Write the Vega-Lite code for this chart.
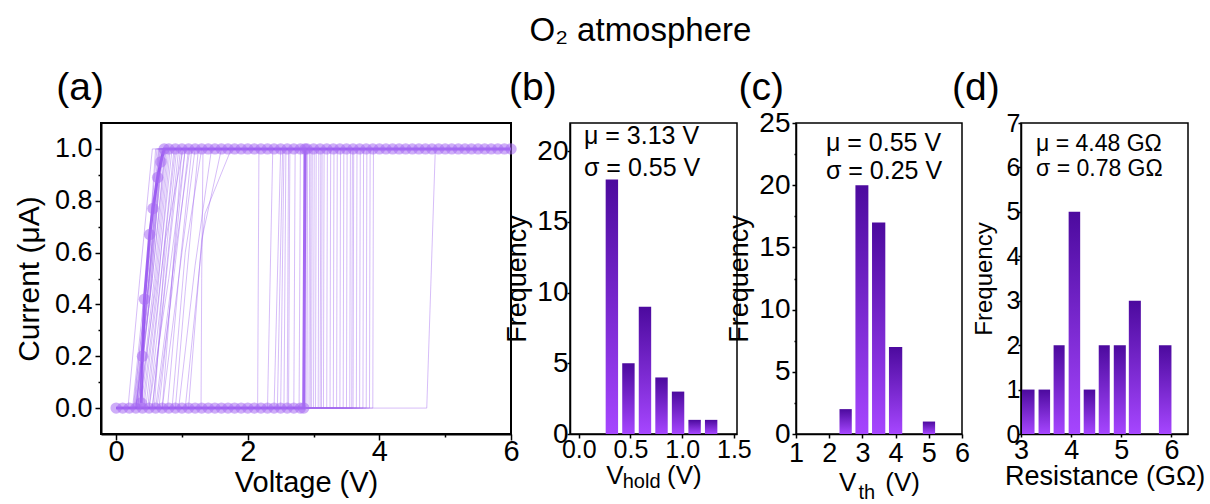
{
"$schema": "https://vega.github.io/schema/vega-lite/v6.json",
"padding": {"left": 13, "top": 14, "right": 0, "bottom": 0},
"background": "white",
"title": {"text": "O₂ atmosphere", "fontSize": 33, "font": "Liberation Sans", "fontWeight": "normal", "anchor": "middle", "frame": "bounds", "dx": 31, "offset": 20, "color": "black"},
"config": {
  "font": "Liberation Sans",
  "axis": {"grid": false, "domainColor": "black", "tickColor": "black", "labelColor": "black", "titleColor": "black", "labelFont": "Liberation Sans", "titleFont": "Liberation Sans", "titleFontWeight": "normal", "domainWidth": 1.5, "tickWidth": 1.5, "labelFlush": false, "labelOverlap": false, "labelBound": false},
  "view": {"stroke": "black", "strokeWidth": 1.5},
  "title": {"font": "Liberation Sans", "fontWeight": "normal", "color": "black"}
},
"bounds": "flush",
"spacing": 59,
"hconcat": [
{
  "width": 410, "height": 311,
  "view": {"stroke": "black", "strokeWidth": 2},
  "encoding": {
    "x": {"field": "V", "type": "quantitative", "scale": {"domain": [-0.23, 6], "nice": false, "zero": false},
      "axis": {"values": [0,1,2,3,4,5,6], "labelExpr": "datum.value % 2 == 0 ? datum.label : ''", "tickSize": {"condition": {"test": "datum.value % 2 == 0", "value": 6}, "value": 3}, "labelFontSize": 29, "labelPadding": -3, "labelOverlap": false, "title": "Voltage (V)", "titleFontSize": 29, "titlePadding": 2, "domainWidth": 2}},
    "y": {"field": "I", "type": "quantitative", "scale": {"domain": [-0.1, 1.1], "nice": false, "zero": false},
      "axis": {"values": [0,0.1,0.2,0.3,0.4,0.5,0.6,0.7,0.8,0.9,1.0], "labelExpr": "round(datum.value*10) % 2 == 0 ? format(datum.value, '.1f') : ''", "tickSize": {"condition": {"test": "round(datum.value*10) % 2 == 0", "value": 6}, "value": 3}, "labelFontSize": 27, "labelPadding": 3, "labelOverlap": false, "title": "Current (μA)", "titleFontSize": 30, "titlePadding": 10, "domainWidth": 2}}
  },
  "layer": [
    {"data": {"name": "iv"}, "mark": {"type": "line", "stroke": "#a36cf0", "strokeWidth": 1, "opacity": 0.45}, "encoding": {"detail": {"field": "curve"}, "order": {"field": "step"}}},
    {"data": {"name": "mk"}, "mark": {"type": "line", "stroke": "#9450f0", "strokeWidth": 3, "opacity": 0.85}, "encoding": {"order": {"field": "k"}}},
    {"data": {"name": "mk"}, "mark": {"type": "point", "shape": "circle", "filled": true, "size": 130, "color": "#a66af3", "opacity": 0.55}, "encoding": {}},
    {"data": {"values": [{"V": -0.91, "I": 1.189, "t": "(a)"}]}, "mark": {"type": "text", "align": "left", "baseline": "alphabetic", "fontSize": 39, "color": "black"}, "encoding": {"text": {"field": "t"}}}
  ]
},
{
  "width": 167, "height": 311,
  "encoding": {
    "x": {"field": "lo", "type": "quantitative", "scale": {"domain": [-0.085, 1.53], "nice": false, "zero": false},
      "axis": {"values": [0,0.5,1,1.5], "format": ".1f", "labelFontSize": 25, "tickSize": 4, "labelPadding": -1, "labelOverlap": false, "title": "V\u00a0\u00a0\u00a0\u00a0\u00a0\u00a0(V)", "titleFontSize": 26, "titlePadding": 0}},
    "y": {"field": "n", "type": "quantitative", "scale": {"domain": [0, 22], "nice": false},
      "axis": {"values": [0,5,10,15,20], "labelFontSize": 28, "tickSize": 3, "labelPadding": -1, "labelOverlap": false, "title": "Frequency", "titleFontSize": 27, "titlePadding": 5}}
  },
  "layer": [
    {"data": {"name": "hb"}, "mark": {"type": "bar", "color": {"gradient": "linear", "x1": 0, "y1": 0, "x2": 0, "y2": 1, "stops": [{"offset": 0, "color": "#4c0a9e"}, {"offset": 1, "color": "#a646ff"}]}},
     "encoding": {"x2": {"field": "hi"}, "y2": {"datum": 0}}},
    {"data": {"values": [{"lo": 0.05, "n": 20.5, "t": "μ = 3.13 V"}, {"lo": 0.05, "n": 18.25, "t": "σ = 0.55 V"}]},
     "mark": {"type": "text", "align": "left", "baseline": "alphabetic", "fontSize": 25, "color": "black"},
     "encoding": {"text": {"field": "t"}}},
    {"data": {"values": [{"lo": 0.425, "n": -3.8, "t": "hold"}]},
     "mark": {"type": "text", "align": "left", "baseline": "alphabetic", "fontSize": 20, "color": "black"},
     "encoding": {"text": {"field": "t"}}},
    {"data": {"values": [{"lo": -0.675, "n": 23.63, "t": "(b)"}]},
     "mark": {"type": "text", "align": "left", "baseline": "alphabetic", "fontSize": 39, "color": "black"},
     "encoding": {"text": {"field": "t"}}}
  ]
},
{
  "width": 166, "height": 311,
  "encoding": {
    "x": {"field": "lo", "type": "quantitative", "scale": {"domain": [1, 6], "nice": false, "zero": false},
      "axis": {"values": [1,2,3,4,5,6], "format": "d", "labelFontSize": 27, "tickSize": 4, "labelPadding": 2, "labelOverlap": false, "title": "V\u00a0\u00a0\u00a0\u00a0(V)", "titleFontSize": 26, "titlePadding": 3}},
    "y": {"field": "n", "type": "quantitative", "scale": {"domain": [0, 25], "nice": false},
      "axis": {"values": [0,2.5,5,7.5,10,12.5,15,17.5,20,22.5,25], "labelExpr": "datum.value % 5 == 0 ? datum.label : ''", "tickSize": {"condition": {"test": "datum.value % 5 == 0", "value": 4}, "value": 2}, "labelFontSize": 28, "labelPadding": 2, "labelOverlap": false, "title": "Frequency", "titleFontSize": 27, "titlePadding": 5}}
  },
  "layer": [
    {"data": {"name": "hc"}, "mark": {"type": "bar", "color": {"gradient": "linear", "x1": 0, "y1": 0, "x2": 0, "y2": 1, "stops": [{"offset": 0, "color": "#4c0a9e"}, {"offset": 1, "color": "#a646ff"}]}},
     "encoding": {"x2": {"field": "hi"}, "y2": {"datum": 0}}},
    {"data": {"values": [{"lo": 1.9, "n": 22.75, "t": "μ = 0.55 V"}, {"lo": 1.9, "n": 20.5, "t": "σ = 0.25 V"}]},
     "mark": {"type": "text", "align": "left", "baseline": "alphabetic", "fontSize": 25, "color": "black"},
     "encoding": {"text": {"field": "t"}}},
    {"data": {"values": [{"lo": 2.88, "n": -5.23, "t": "th"}]},
     "mark": {"type": "text", "align": "left", "baseline": "alphabetic", "fontSize": 20, "color": "black"},
     "encoding": {"text": {"field": "t"}}},
    {"data": {"values": [{"lo": -0.73, "n": 26.85, "t": "(c)"}]},
     "mark": {"type": "text", "align": "left", "baseline": "alphabetic", "fontSize": 39, "color": "black"},
     "encoding": {"text": {"field": "t"}}}
  ]
},
{
  "width": 167, "height": 311,
  "encoding": {
    "x": {"field": "lo", "type": "quantitative", "scale": {"domain": [3, 6.33], "nice": false, "zero": false},
      "axis": {"values": [3,4,5,6], "format": "d", "labelFontSize": 27, "tickSize": 3, "labelPadding": 0, "labelOverlap": false, "title": "Resistance (GΩ)", "titleFontSize": 27, "titlePadding": 0}},
    "y": {"field": "n", "type": "quantitative", "scale": {"domain": [0, 7], "nice": false},
      "axis": {"values": [0,1,2,3,4,5,6,7], "format": "d", "labelFontSize": 25, "tickSize": 3, "labelPadding": -2, "labelOverlap": false, "title": "Frequency", "titleFontSize": 24, "titlePadding": 10}}
  },
  "layer": [
    {"data": {"name": "hd"}, "mark": {"type": "bar", "color": {"gradient": "linear", "x1": 0, "y1": 0, "x2": 0, "y2": 1, "stops": [{"offset": 0, "color": "#4c0a9e"}, {"offset": 1, "color": "#a646ff"}]}},
     "encoding": {"x2": {"field": "hi"}, "y2": {"datum": 0}}},
    {"data": {"values": [{"lo": 3.3, "n": 6.37, "t": "μ = 4.48 GΩ"}, {"lo": 3.3, "n": 5.8, "t": "σ = 0.78 GΩ"}]},
     "mark": {"type": "text", "align": "left", "baseline": "alphabetic", "fontSize": 23, "color": "black"},
     "encoding": {"text": {"field": "t"}}},
    {"data": {"values": [{"lo": 1.624, "n": 7.52, "t": "(d)"}]},
     "mark": {"type": "text", "align": "left", "baseline": "alphabetic", "fontSize": 39, "color": "black"},
     "encoding": {"text": {"field": "t"}}}
  ]
}
],
"datasets": {
"hb": [{"lo":0.26,"hi":0.38,"n":18},{"lo":0.42,"hi":0.54,"n":5},{"lo":0.58,"hi":0.70,"n":9},{"lo":0.74,"hi":0.86,"n":4},{"lo":0.90,"hi":1.02,"n":3},{"lo":1.06,"hi":1.18,"n":1},{"lo":1.22,"hi":1.34,"n":1}],
"hc": [{"lo":2.31,"hi":2.68,"n":2},{"lo":2.79,"hi":3.18,"n":20},{"lo":3.29,"hi":3.69,"n":17},{"lo":3.80,"hi":4.20,"n":7},{"lo":4.82,"hi":5.19,"n":1}],
"hd": [{"lo":3.02,"hi":3.27,"n":1},{"lo":3.35,"hi":3.58,"n":1},{"lo":3.65,"hi":3.87,"n":2},{"lo":3.95,"hi":4.18,"n":5},{"lo":4.25,"hi":4.48,"n":1},{"lo":4.55,"hi":4.77,"n":2},{"lo":4.85,"hi":5.09,"n":2},{"lo":5.15,"hi":5.39,"n":3},{"lo":5.75,"hi":6.0,"n":2}],
"mk": [
{"k":1,"V":0.0,"I":0},{"k":2,"V":0.1,"I":0},{"k":3,"V":0.2,"I":0},{"k":4,"V":0.3,"I":0},{"k":5,"V":0.4,"I":0},{"k":6,"V":0.5,"I":0},{"k":7,"V":0.6,"I":0},{"k":8,"V":0.7,"I":0},{"k":9,"V":0.8,"I":0},{"k":10,"V":0.9,"I":0},
{"k":11,"V":1.0,"I":0},{"k":12,"V":1.1,"I":0},{"k":13,"V":1.2,"I":0},{"k":14,"V":1.3,"I":0},{"k":15,"V":1.4,"I":0},{"k":16,"V":1.5,"I":0},{"k":17,"V":1.6,"I":0},{"k":18,"V":1.7,"I":0},{"k":19,"V":1.8,"I":0},{"k":20,"V":1.9,"I":0},
{"k":21,"V":2.0,"I":0},{"k":22,"V":2.1,"I":0},{"k":23,"V":2.2,"I":0},{"k":24,"V":2.3,"I":0},{"k":25,"V":2.4,"I":0},{"k":26,"V":2.5,"I":0},{"k":27,"V":2.6,"I":0},{"k":28,"V":2.7,"I":0},{"k":29,"V":2.8,"I":0},{"k":30,"V":2.85,"I":0},
{"k":31,"V":2.87,"I":1},{"k":32,"V":2.9,"I":1},{"k":33,"V":3.0,"I":1},{"k":34,"V":3.1,"I":1},{"k":35,"V":3.2,"I":1},{"k":36,"V":3.3,"I":1},{"k":37,"V":3.4,"I":1},{"k":38,"V":3.5,"I":1},{"k":39,"V":3.6,"I":1},{"k":40,"V":3.7,"I":1},
{"k":41,"V":3.8,"I":1},{"k":42,"V":3.9,"I":1},{"k":43,"V":4.0,"I":1},{"k":44,"V":4.1,"I":1},{"k":45,"V":4.2,"I":1},{"k":46,"V":4.3,"I":1},{"k":47,"V":4.4,"I":1},{"k":48,"V":4.5,"I":1},{"k":49,"V":4.6,"I":1},{"k":50,"V":4.7,"I":1},
{"k":51,"V":4.8,"I":1},{"k":52,"V":4.9,"I":1},{"k":53,"V":5.0,"I":1},{"k":54,"V":5.1,"I":1},{"k":55,"V":5.2,"I":1},{"k":56,"V":5.3,"I":1},{"k":57,"V":5.4,"I":1},{"k":58,"V":5.5,"I":1},{"k":59,"V":5.6,"I":1},{"k":60,"V":5.7,"I":1},
{"k":61,"V":5.8,"I":1},{"k":62,"V":5.9,"I":1},{"k":63,"V":6.0,"I":1},
{"k":64,"V":2.8,"I":1},{"k":65,"V":2.7,"I":1},{"k":66,"V":2.6,"I":1},{"k":67,"V":2.5,"I":1},{"k":68,"V":2.4,"I":1},{"k":69,"V":2.3,"I":1},{"k":70,"V":2.2,"I":1},{"k":71,"V":2.1,"I":1},{"k":72,"V":2.0,"I":1},{"k":73,"V":1.9,"I":1},
{"k":74,"V":1.8,"I":1},{"k":75,"V":1.7,"I":1},{"k":76,"V":1.6,"I":1},{"k":77,"V":1.5,"I":1},{"k":78,"V":1.4,"I":1},{"k":79,"V":1.3,"I":1},{"k":80,"V":1.2,"I":1},{"k":81,"V":1.1,"I":1},{"k":82,"V":1.0,"I":1},{"k":83,"V":0.9,"I":1},
{"k":84,"V":0.8,"I":1},
{"k":85,"V":0.73,"I":1.0},{"k":86,"V":0.68,"I":0.95},{"k":87,"V":0.63,"I":0.89},{"k":88,"V":0.56,"I":0.77},{"k":89,"V":0.51,"I":0.67},{"k":90,"V":0.43,"I":0.42},{"k":91,"V":0.40,"I":0.2},{"k":92,"V":0.38,"I":0.02}
],
"iv": [
{"curve":1,"step":1,"V":0,"I":0},{"curve":1,"step":2,"V":2.15,"I":0},{"curve":1,"step":3,"V":2.17,"I":1},{"curve":1,"step":4,"V":0.62,"I":1},{"curve":1,"step":5,"V":0.45,"I":0.5},{"curve":1,"step":6,"V":0.25,"I":0},
{"curve":2,"step":1,"V":0,"I":0},{"curve":2,"step":2,"V":2.3,"I":0},{"curve":2,"step":3,"V":2.38,"I":1},{"curve":2,"step":4,"V":0.75,"I":1},{"curve":2,"step":5,"V":0.55,"I":0.5},{"curve":2,"step":6,"V":0.32,"I":0},
{"curve":3,"step":1,"V":0,"I":0},{"curve":3,"step":2,"V":2.4,"I":0},{"curve":3,"step":3,"V":2.5,"I":1},{"curve":3,"step":4,"V":0.9,"I":1},{"curve":3,"step":5,"V":0.7,"I":0.55},{"curve":3,"step":6,"V":0.45,"I":0},
{"curve":4,"step":1,"V":0,"I":0},{"curve":4,"step":2,"V":2.45,"I":0},{"curve":4,"step":3,"V":2.53,"I":1},{"curve":4,"step":4,"V":1.05,"I":1},{"curve":4,"step":5,"V":0.8,"I":0.5},{"curve":4,"step":6,"V":0.5,"I":0},
{"curve":5,"step":1,"V":0,"I":0},{"curve":5,"step":2,"V":2.5,"I":0},{"curve":5,"step":3,"V":2.55,"I":1},{"curve":5,"step":4,"V":0.68,"I":1},{"curve":5,"step":5,"V":0.5,"I":0.45},{"curve":5,"step":6,"V":0.3,"I":0},
{"curve":6,"step":1,"V":0,"I":0},{"curve":6,"step":2,"V":2.55,"I":0},{"curve":6,"step":3,"V":2.58,"I":1},{"curve":6,"step":4,"V":1.2,"I":1},{"curve":6,"step":5,"V":1.0,"I":0.6},{"curve":6,"step":6,"V":0.7,"I":0},
{"curve":7,"step":1,"V":0,"I":0},{"curve":7,"step":2,"V":2.6,"I":0},{"curve":7,"step":3,"V":2.62,"I":1},{"curve":7,"step":4,"V":0.8,"I":1},{"curve":7,"step":5,"V":0.62,"I":0.5},{"curve":7,"step":6,"V":0.35,"I":0},
{"curve":8,"step":1,"V":0,"I":0},{"curve":8,"step":2,"V":2.62,"I":0},{"curve":8,"step":3,"V":2.64,"I":1},{"curve":8,"step":4,"V":1.75,"I":1},{"curve":8,"step":5,"V":1.35,"I":0.75},{"curve":8,"step":6,"V":1.05,"I":0},
{"curve":9,"step":1,"V":0,"I":0},{"curve":9,"step":2,"V":2.7,"I":0},{"curve":9,"step":3,"V":2.72,"I":1},{"curve":9,"step":4,"V":0.95,"I":1},{"curve":9,"step":5,"V":0.75,"I":0.5},{"curve":9,"step":6,"V":0.55,"I":0},
{"curve":10,"step":1,"V":0,"I":0},{"curve":10,"step":2,"V":2.78,"I":0},{"curve":10,"step":3,"V":2.8,"I":1},{"curve":10,"step":4,"V":0.65,"I":1},{"curve":10,"step":5,"V":0.5,"I":0.5},{"curve":10,"step":6,"V":0.28,"I":0},
{"curve":11,"step":1,"V":0,"I":0},{"curve":11,"step":2,"V":2.88,"I":0},{"curve":11,"step":3,"V":2.89,"I":1},{"curve":11,"step":4,"V":1.1,"I":1},{"curve":11,"step":5,"V":0.85,"I":0.45},{"curve":11,"step":6,"V":0.62,"I":0},
{"curve":12,"step":1,"V":0,"I":0},{"curve":12,"step":2,"V":2.9,"I":0},{"curve":12,"step":3,"V":2.91,"I":1},{"curve":12,"step":4,"V":0.72,"I":1},{"curve":12,"step":5,"V":0.55,"I":0.6},{"curve":12,"step":6,"V":0.3,"I":0},
{"curve":13,"step":1,"V":0,"I":0},{"curve":13,"step":2,"V":2.93,"I":0},{"curve":13,"step":3,"V":2.94,"I":1},{"curve":13,"step":4,"V":1.32,"I":1},{"curve":13,"step":5,"V":1.3,"I":0.5},{"curve":13,"step":6,"V":1.29,"I":0},
{"curve":14,"step":1,"V":0,"I":0},{"curve":14,"step":2,"V":2.97,"I":0},{"curve":14,"step":3,"V":2.98,"I":1},{"curve":14,"step":4,"V":0.85,"I":1},{"curve":14,"step":5,"V":0.66,"I":0.55},{"curve":14,"step":6,"V":0.4,"I":0},
{"curve":15,"step":1,"V":0,"I":0},{"curve":15,"step":2,"V":3.0,"I":0},{"curve":15,"step":3,"V":3.01,"I":1},{"curve":15,"step":4,"V":1.15,"I":1},{"curve":15,"step":5,"V":0.95,"I":0.5},{"curve":15,"step":6,"V":0.78,"I":0},
{"curve":16,"step":1,"V":0,"I":0},{"curve":16,"step":2,"V":3.03,"I":0},{"curve":16,"step":3,"V":3.04,"I":1},{"curve":16,"step":4,"V":0.7,"I":1},{"curve":16,"step":5,"V":0.5,"I":0.4},{"curve":16,"step":6,"V":0.3,"I":0},
{"curve":17,"step":1,"V":0,"I":0},{"curve":17,"step":2,"V":3.07,"I":0},{"curve":17,"step":3,"V":3.08,"I":1},{"curve":17,"step":4,"V":1.3,"I":1},{"curve":17,"step":5,"V":1.05,"I":0.6},{"curve":17,"step":6,"V":0.85,"I":0},
{"curve":18,"step":1,"V":0,"I":0},{"curve":18,"step":2,"V":3.1,"I":0},{"curve":18,"step":3,"V":3.11,"I":1},{"curve":18,"step":4,"V":0.6,"I":1},{"curve":18,"step":5,"V":0.45,"I":0.45},{"curve":18,"step":6,"V":0.27,"I":0},
{"curve":19,"step":1,"V":0,"I":0},{"curve":19,"step":2,"V":3.15,"I":0},{"curve":19,"step":3,"V":3.16,"I":1},{"curve":19,"step":4,"V":0.98,"I":1},{"curve":19,"step":5,"V":0.8,"I":0.6},{"curve":19,"step":6,"V":0.55,"I":0},
{"curve":20,"step":1,"V":0,"I":0},{"curve":20,"step":2,"V":3.2,"I":0},{"curve":20,"step":3,"V":3.21,"I":1},{"curve":20,"step":4,"V":0.78,"I":1},{"curve":20,"step":5,"V":0.6,"I":0.5},{"curve":20,"step":6,"V":0.38,"I":0},
{"curve":21,"step":1,"V":0,"I":0},{"curve":21,"step":2,"V":3.25,"I":0},{"curve":21,"step":3,"V":3.26,"I":1},{"curve":21,"step":4,"V":1.6,"I":1},{"curve":21,"step":5,"V":1.3,"I":0.65},{"curve":21,"step":6,"V":1.1,"I":0},
{"curve":22,"step":1,"V":0,"I":0},{"curve":22,"step":2,"V":3.3,"I":0},{"curve":22,"step":3,"V":3.31,"I":1},{"curve":22,"step":4,"V":0.66,"I":1},{"curve":22,"step":5,"V":0.5,"I":0.5},{"curve":22,"step":6,"V":0.33,"I":0},
{"curve":23,"step":1,"V":0,"I":0},{"curve":23,"step":2,"V":3.35,"I":0},{"curve":23,"step":3,"V":3.36,"I":1},{"curve":23,"step":4,"V":1.0,"I":1},{"curve":23,"step":5,"V":0.82,"I":0.4},{"curve":23,"step":6,"V":0.65,"I":0},
{"curve":24,"step":1,"V":0,"I":0},{"curve":24,"step":2,"V":3.4,"I":0},{"curve":24,"step":3,"V":3.41,"I":1},{"curve":24,"step":4,"V":0.74,"I":1},{"curve":24,"step":5,"V":0.55,"I":0.5},{"curve":24,"step":6,"V":0.3,"I":0},
{"curve":25,"step":1,"V":0,"I":0},{"curve":25,"step":2,"V":3.45,"I":0},{"curve":25,"step":3,"V":3.46,"I":1},{"curve":25,"step":4,"V":1.25,"I":1},{"curve":25,"step":5,"V":1.05,"I":0.45},{"curve":25,"step":6,"V":0.9,"I":0},
{"curve":26,"step":1,"V":0,"I":0},{"curve":26,"step":2,"V":3.5,"I":0},{"curve":26,"step":3,"V":3.51,"I":1},{"curve":26,"step":4,"V":0.88,"I":1},{"curve":26,"step":5,"V":0.7,"I":0.55},{"curve":26,"step":6,"V":0.48,"I":0},
{"curve":27,"step":1,"V":0,"I":0},{"curve":27,"step":2,"V":3.55,"I":0},{"curve":27,"step":3,"V":3.56,"I":1},{"curve":27,"step":4,"V":0.64,"I":1},{"curve":27,"step":5,"V":0.48,"I":0.5},{"curve":27,"step":6,"V":0.26,"I":0},
{"curve":28,"step":1,"V":0,"I":0},{"curve":28,"step":2,"V":3.6,"I":0},{"curve":28,"step":3,"V":3.61,"I":1},{"curve":28,"step":4,"V":1.12,"I":1},{"curve":28,"step":5,"V":0.9,"I":0.6},{"curve":28,"step":6,"V":0.6,"I":0},
{"curve":29,"step":1,"V":0,"I":0},{"curve":29,"step":2,"V":3.65,"I":0},{"curve":29,"step":3,"V":3.66,"I":1},{"curve":29,"step":4,"V":0.7,"I":1},{"curve":29,"step":5,"V":0.52,"I":0.55},{"curve":29,"step":6,"V":0.29,"I":0},
{"curve":30,"step":1,"V":0,"I":0},{"curve":30,"step":2,"V":3.7,"I":0},{"curve":30,"step":3,"V":3.71,"I":1},{"curve":30,"step":4,"V":1.45,"I":1},{"curve":30,"step":5,"V":1.2,"I":0.55},{"curve":30,"step":6,"V":0.95,"I":0},
{"curve":31,"step":1,"V":0,"I":0},{"curve":31,"step":2,"V":3.75,"I":0},{"curve":31,"step":3,"V":3.76,"I":1},{"curve":31,"step":4,"V":0.82,"I":1},{"curve":31,"step":5,"V":0.63,"I":0.45},{"curve":31,"step":6,"V":0.42,"I":0},
{"curve":32,"step":1,"V":0,"I":0},{"curve":32,"step":2,"V":3.8,"I":0},{"curve":32,"step":3,"V":3.81,"I":1},{"curve":32,"step":4,"V":0.67,"I":1},{"curve":32,"step":5,"V":0.5,"I":0.5},{"curve":32,"step":6,"V":0.31,"I":0},
{"curve":33,"step":1,"V":0,"I":0},{"curve":33,"step":2,"V":3.85,"I":0},{"curve":33,"step":3,"V":3.86,"I":1},{"curve":33,"step":4,"V":1.05,"I":1},{"curve":33,"step":5,"V":0.85,"I":0.5},{"curve":33,"step":6,"V":0.7,"I":0},
{"curve":34,"step":1,"V":0,"I":0},{"curve":34,"step":2,"V":3.9,"I":0},{"curve":34,"step":3,"V":3.91,"I":1},{"curve":34,"step":4,"V":0.76,"I":1},{"curve":34,"step":5,"V":0.58,"I":0.5},{"curve":34,"step":6,"V":0.36,"I":0},
{"curve":35,"step":1,"V":0,"I":0},{"curve":35,"step":2,"V":4.72,"I":0},{"curve":35,"step":3,"V":4.85,"I":1},{"curve":35,"step":4,"V":0.92,"I":1},{"curve":35,"step":5,"V":0.72,"I":0.5},{"curve":35,"step":6,"V":0.5,"I":0},
{"curve":36,"step":1,"V":0,"I":0},{"curve":36,"step":2,"V":2.95,"I":0},{"curve":36,"step":3,"V":2.96,"I":1},{"curve":36,"step":4,"V":0.55,"I":1},{"curve":36,"step":5,"V":0.36,"I":0.5},{"curve":36,"step":6,"V":0.18,"I":0},
{"curve":37,"step":1,"V":0,"I":0},{"curve":37,"step":2,"V":3.12,"I":0},{"curve":37,"step":3,"V":3.13,"I":1},{"curve":37,"step":4,"V":0.69,"I":1},{"curve":37,"step":5,"V":0.52,"I":0.45},{"curve":37,"step":6,"V":0.33,"I":0},
{"curve":38,"step":1,"V":0,"I":0},{"curve":38,"step":2,"V":3.58,"I":0},{"curve":38,"step":3,"V":3.59,"I":1},{"curve":38,"step":4,"V":1.02,"I":1},{"curve":38,"step":5,"V":0.75,"I":0.65},{"curve":38,"step":6,"V":0.58,"I":0}
]
}
}
